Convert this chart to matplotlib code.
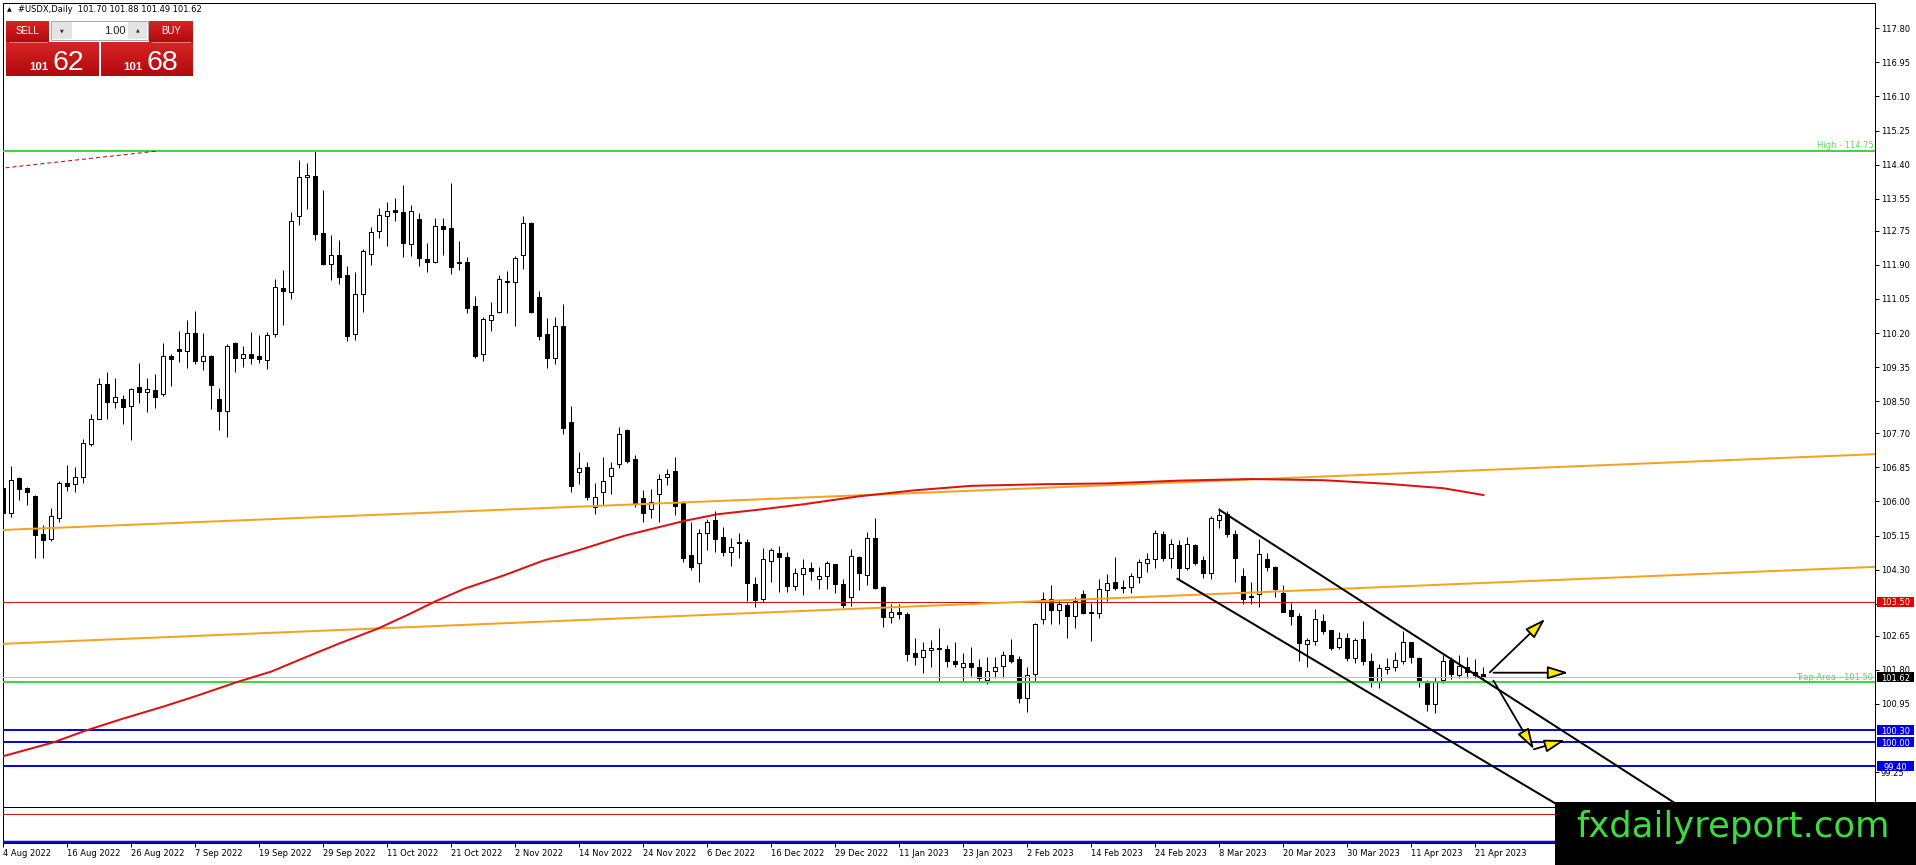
import matplotlib
matplotlib.use('Agg')
import matplotlib.pyplot as plt
import numpy as np
from matplotlib.patches import Rectangle
from matplotlib.transforms import blended_transform_factory

# ---------------- data ----------------
opens = [106.33,105.70,106.59,106.34,106.14,105.19,105.06,105.60,106.46,106.43,
         106.60,107.43,108.06,108.93,108.47,108.55,108.39,108.85,108.72,108.78,
         108.68,109.63,109.80,109.76,110.19,109.51,109.63,108.56,108.26,109.94,
         109.59,109.68,109.63,109.54,110.17,111.32,111.23,113.13,114.08,114.12,
         112.69,111.91,112.15,111.65,110.17,111.17,112.18,112.74,113.11,113.27,
         113.21,112.41,113.04,112.05,111.96,112.87,112.81,111.96,111.96,110.87,
         109.67,110.52,110.73,111.51,111.47,112.15,112.94,111.09,110.17,109.57,
         110.38,107.99,106.74,106.87,105.85,106.23,106.63,106.93,107.78,107.07,
         106.08,105.80,106.18,106.60,106.76,105.95,104.66,104.46,105.21,105.54,
         105.11,104.75,104.98,105.00,103.93,103.56,104.52,104.71,104.61,103.90,
         104.18,104.33,104.06,104.13,104.43,103.93,103.61,104.61,104.17,105.08,
         103.86,103.13,103.24,103.19,102.21,102.13,102.29,102.34,102.31,102.02,
         101.88,101.96,101.86,101.56,101.76,101.90,102.16,102.06,101.09,101.70,
         103.06,103.58,103.29,103.42,103.14,103.68,103.24,103.21,103.79,104.00,
         103.86,103.86,104.11,104.47,104.56,105.19,104.58,104.91,104.33,104.91,
         104.54,104.22,105.55,105.69,105.20,104.13,103.64,103.69,104.56,104.36,
         103.71,103.29,103.15,102.44,102.53,103.02,102.80,102.38,102.59,102.10,
         102.56,102.02,101.51,101.81,101.86,102.01,102.49,102.09,101.47,100.94,
         101.54,102.05,101.67,101.86,101.74,101.70]
highs = [106.47,106.88,106.62,106.36,106.16,105.41,105.83,106.50,106.91,106.87,
         107.55,108.18,109.07,109.24,109.07,108.65,108.82,109.46,109.07,109.18,
         109.96,109.68,110.25,110.53,110.75,110.19,109.65,108.82,109.92,109.98,
         109.88,110.22,110.15,110.23,111.54,111.77,113.23,114.52,114.43,114.76,
         113.77,112.65,112.52,111.87,111.71,112.30,112.84,113.31,113.46,113.56,
         113.89,113.39,113.19,112.45,113.06,113.06,113.93,112.50,112.09,111.12,
         110.61,110.98,111.65,111.75,112.12,113.12,112.98,111.25,110.58,110.59,
         110.93,108.38,107.23,106.99,106.45,107.10,106.98,107.85,107.80,107.16,
         106.28,106.30,106.69,106.80,107.12,106.00,105.50,105.31,105.56,105.75,
         105.36,105.08,105.22,105.06,104.11,104.83,104.83,104.89,104.75,104.33,
         104.56,104.48,104.36,104.52,104.43,104.07,104.81,104.64,105.25,105.58,
         103.89,103.44,103.44,103.24,102.59,102.50,102.55,102.84,102.42,102.49,
         102.23,102.36,102.06,102.13,102.13,102.26,102.56,102.14,101.86,102.98,
         103.73,103.92,103.54,103.48,103.63,103.78,103.48,104.07,104.18,104.61,
         104.03,104.21,104.56,104.72,105.29,105.26,105.06,105.04,105.12,104.93,
         104.64,105.64,105.83,105.75,105.29,104.33,104.00,105.06,104.71,104.39,
         103.92,103.48,103.21,102.59,103.31,103.19,102.80,102.75,102.73,102.59,
         103.02,102.21,101.95,102.09,102.25,102.77,102.50,102.13,101.55,101.63,
         102.17,102.11,102.17,102.11,102.07,101.88]
lows = [105.62,105.62,106.04,105.91,104.58,104.58,105.02,105.50,106.27,106.24,
        106.45,107.39,108.05,108.05,108.32,107.93,107.53,108.45,108.24,108.34,
        108.63,108.88,109.47,109.34,109.44,109.28,108.30,107.77,107.62,109.24,
        109.36,109.44,109.45,109.30,110.09,110.40,111.04,112.89,113.29,112.52,
        111.90,111.52,111.42,110.00,110.03,110.73,111.90,112.58,112.38,113.00,
        112.10,112.13,111.87,111.73,111.94,112.15,111.66,111.77,110.71,109.59,
        109.50,110.25,110.69,110.69,110.38,111.79,110.69,110.03,109.32,109.43,
        107.68,106.24,106.44,106.04,105.69,105.91,106.18,106.84,106.97,105.87,
        105.50,105.60,105.50,106.40,105.66,104.50,104.28,104.00,104.79,104.75,
        104.64,104.39,104.58,103.52,103.38,103.50,104.00,103.75,103.73,103.79,
        103.67,104.04,103.81,103.81,103.71,103.35,103.40,103.78,103.92,103.81,
        102.88,102.98,103.06,102.01,101.92,101.71,101.88,101.50,101.88,101.88,
        101.53,101.65,101.51,101.45,101.61,101.61,101.96,100.98,100.76,101.51,
        102.94,102.94,102.94,102.59,102.84,103.19,102.53,103.10,103.52,103.79,
        103.71,103.71,103.97,104.25,104.35,104.52,104.35,104.06,104.29,104.42,
        104.08,104.06,105.33,105.11,104.00,103.44,103.45,103.38,104.27,103.63,
        103.24,102.92,102.01,101.86,102.42,102.70,102.30,102.31,102.01,101.98,
        101.91,101.38,101.36,101.70,101.76,101.95,101.96,101.38,100.78,100.73,
        101.48,101.57,101.61,101.59,101.59,101.49]
closes = [105.70,106.53,106.32,106.24,105.16,105.04,105.64,106.46,106.39,106.60,
          107.47,108.05,108.93,108.49,108.60,108.36,108.80,108.74,108.80,108.61,
          109.63,109.56,109.76,110.19,109.50,109.63,108.90,108.26,109.88,109.59,
          109.68,109.59,109.56,110.15,111.34,111.26,112.99,114.08,114.14,112.67,
          111.92,112.14,111.61,110.13,111.17,112.25,112.71,113.14,113.25,113.23,
          112.44,113.25,112.06,111.98,112.88,112.79,111.84,111.95,110.83,109.64,
          110.54,110.65,111.54,111.48,112.06,112.94,110.73,110.13,109.59,110.38,
          107.82,106.39,106.84,106.10,106.10,106.52,106.83,107.67,107.02,105.94,
          105.70,105.99,106.55,106.69,105.89,104.58,104.37,105.21,105.48,105.06,
          104.75,104.87,104.97,103.96,103.54,104.56,104.79,104.61,103.90,104.21,
          104.33,104.27,104.14,104.46,103.93,103.42,104.64,104.21,105.08,103.85,
          103.13,103.24,103.19,102.19,102.11,102.30,102.34,102.31,102.01,101.94,
          101.96,101.86,101.59,101.77,101.86,102.16,102.03,101.09,101.67,102.94,
          103.58,103.29,103.44,103.15,103.53,103.23,103.21,103.81,103.96,103.83,
          103.83,104.15,104.48,104.56,105.21,104.60,104.93,104.33,104.93,104.47,
          104.21,105.58,105.66,105.20,104.58,103.58,103.61,104.69,104.36,103.81,
          103.25,103.15,102.48,102.55,103.06,102.78,102.35,102.59,102.10,102.55,
          102.01,101.49,101.84,101.86,102.05,102.49,102.11,101.49,100.94,101.51,
          102.03,101.69,101.90,101.74,101.67,101.62]

date_labels = ["4 Aug 2022", "16 Aug 2022", "26 Aug 2022", "7 Sep 2022", "19 Sep 2022",
               "29 Sep 2022", "11 Oct 2022", "21 Oct 2022", "2 Nov 2022", "14 Nov 2022",
               "24 Nov 2022", "6 Dec 2022", "16 Dec 2022", "29 Dec 2022", "11 Jan 2023",
               "23 Jan 2023", "2 Feb 2023", "14 Feb 2023", "24 Feb 2023", "8 Mar 2023",
               "20 Mar 2023", "30 Mar 2023", "11 Apr 2023", "21 Apr 2023"]
label_step = 8

# price-scale labels visible in the reference
ytick_vals = [117.80, 116.95, 116.10, 115.25, 114.40, 113.55, 112.75, 111.90, 111.05,
              110.20, 109.35, 108.50, 107.70, 106.85, 106.00, 105.15, 104.30, 103.45,
              102.65, 101.80, 100.95, 99.25]

# moving average (red curve) read at bar positions
ma_bars = [0, 6.2, 10.2, 14.7, 19.9, 23.8, 29.25, 33.5, 38.3, 42, 46.8, 50.5, 54.1,
           57.7, 62.6, 67.4, 72.3, 77.7, 85, 89.2, 94.6, 100, 107, 114, 121, 130, 138,
           147, 156, 165, 173, 180, 185]
ma_vals = [99.65, 99.99, 100.28, 100.57, 100.88, 101.13, 101.50, 101.76, 102.16, 102.46,
           102.83, 103.17, 103.52, 103.83, 104.16, 104.52, 104.81, 105.15, 105.51, 105.68,
           105.80, 105.93, 106.13, 106.28, 106.39, 106.43, 106.45, 106.52, 106.56, 106.53,
           106.44, 106.33, 106.16]

# trend lines (bar index, price)
orange_up_bars = [0, 234]
orange_up_vals = [105.29, 107.18]
orange_lo_bars = [0, 234]
orange_lo_vals = [102.45, 104.37]
chan_up_bars = [152, 217]
chan_up_vals = [105.79, 97.44]
chan_lo_bars = [146.75, 203]
chan_lo_vals = [104.07, 97.40]
red_dash_bars = [0.25, 19.25]
red_dash_vals = [114.32, 114.74]

high_level = 114.75
trap_level = 101.50
bid_level = 101.62
resistance_level = 103.50
support_levels = [100.30, 100.00, 99.40]
bottom_black = 98.38
bottom_red = 98.21
bottom_blue = 97.50

# scenario arrows: (start bar, start price, end bar, end price)
arrows = [(185.8, 101.74, 192.7, 103.07),
          (186.25, 101.73, 195.6, 101.73),
          (186.25, 101.53, 191.3, 99.82),
          (191.3, 99.82, 195.2, 100.05)]

# ---------------- figure ----------------
W, H = 1916, 865
fig = plt.figure(figsize=(W / 100, H / 100), dpi=100)
fig.patch.set_facecolor('white')
L_px, R_px, T_px, B_px = 2.7, 1875, 2.5, 843
ax = fig.add_axes([L_px / W, 1 - B_px / H, (R_px - L_px) / W, (B_px - T_px) / H])
ax.set_xlim(-0.1, 233.94)
ax.set_ylim(97.483, 118.443)
ax.set_facecolor('white')

px = 0.72  # one pixel in points
GREEN = '#3fd63f'
ORANGE = '#f4a321'
BLUE = '#0a0ad8'
RED = '#d01010'

o = np.array(opens); h = np.array(highs); l = np.array(lows); c = np.array(closes)
idx = np.arange(len(o))
up = c >= o
ax.vlines(idx, l, h, color='black', lw=px, zorder=3)
ax.bar(idx[up], np.maximum((c - o)[up], 0.005), bottom=o[up], width=0.5,
       facecolor='white', edgecolor='black', lw=px, zorder=4)
ax.bar(idx[~up], np.maximum((o - c)[~up], 0.005), bottom=c[~up], width=0.5,
       facecolor='black', edgecolor='black', lw=px, zorder=4)

# horizontal levels
ax.axhline(high_level, color=GREEN, lw=2 * px, zorder=5)
ax.axhline(bid_level, color='#c0c0c0', lw=px, zorder=5)
ax.axhline(trap_level, color=GREEN, lw=2 * px, zorder=5)
ax.axhline(resistance_level, color=RED, lw=px, zorder=5)
for s in support_levels:
    ax.axhline(s, color=BLUE, lw=2 * px, zorder=5)
ax.axhline(bottom_black, color='black', lw=px, zorder=5)
ax.axhline(bottom_red, color=RED, lw=px, zorder=5)
ax.axhline(bottom_blue, color=BLUE, lw=2.5 * px, zorder=5)

# trend lines
ax.plot(orange_up_bars, orange_up_vals, color=ORANGE, lw=2 * px, zorder=5)
ax.plot(orange_lo_bars, orange_lo_vals, color=ORANGE, lw=2 * px, zorder=5)
ax.plot(ma_bars, ma_vals, color='#dd1111', lw=2 * px, zorder=6,
        solid_joinstyle='round')
ax.plot(chan_up_bars, chan_up_vals, color='black', lw=2 * px, zorder=6)
ax.plot(chan_lo_bars, chan_lo_vals, color='black', lw=2 * px, zorder=6)
ax.plot(red_dash_bars, red_dash_vals, color='#c00000', lw=px, ls=(0, (4, 3)), zorder=6)

for (x0, y0, x1, y1) in arrows:
    ax.annotate('', xy=(x1, y1), xytext=(x0, y0),
                arrowprops=dict(arrowstyle='-|>,head_length=0.9,head_width=0.28',
                                mutation_scale=14, fc='#ffea00', ec='black', lw=1.3,
                                shrinkA=0, shrinkB=0), zorder=7)

# labels on lines
ax.annotate('High - %.2f' % high_level, xy=(1, high_level),
            xycoords=('axes fraction', 'data'), xytext=(-1.2, 0.3),
            textcoords='offset points', ha='right', va='bottom',
            fontsize=6, color='#55dd55', zorder=7)
ax.annotate('Trap Area - %.2f' % trap_level, xy=(1, trap_level),
            xycoords=('axes fraction', 'data'), xytext=(-1.2, 0.3),
            textcoords='offset points', ha='right', va='bottom',
            fontsize=6, color='#55dd55', zorder=7)

# axes styling
for sp in ax.spines.values():
    sp.set_color('black')
    sp.set_linewidth(px)
ax.yaxis.tick_right()
ax.set_yticks(ytick_vals)
ax.set_yticklabels(['%.2f' % v for v in ytick_vals])
ax.tick_params(axis='y', direction='out', length=2.9, width=px, pad=1.2,
               labelsize=6, colors='black')
xt = np.arange(len(date_labels)) * label_step
ax.set_xticks(xt)
ax.set_xticklabels(date_labels)
ax.tick_params(axis='x', direction='out', length=2.9, width=px, pad=1.5,
               labelsize=6, colors='black')
for lab in ax.get_xticklabels():
    lab.set_ha('left')

# price boxes on the price scale
trans = blended_transform_factory(ax.transAxes, ax.transData)
bx0 = (1877 - L_px) / (R_px - L_px)
bw = 37 / (R_px - L_px)
bh = 10 / 40.1
box_items = [(resistance_level, '#e60000'), (bid_level, 'black')] + \
            [(s, '#0000e6') for s in support_levels]
for val, col in box_items:
    ax.add_patch(Rectangle((bx0, val - bh / 2), bw, bh, transform=trans,
                           facecolor=col, edgecolor='none', clip_on=False, zorder=8))
    ax.text(bx0 + bw / 2, val, '%.2f' % val, transform=trans, ha='center',
            va='center_baseline', fontsize=6, color='white', zorder=9, clip_on=False)

# ---------------- overlay (trade panel, header, watermark) ----------------
ov = fig.add_axes([0, 0, 1, 1], zorder=20)
ov.set_xlim(0, W)
ov.set_ylim(H, 0)
ov.axis('off')
ov.patch.set_alpha(0)

def red_grad(x0, y0, x1, y1):
    g = np.linspace(0, 1, 32)[:, None]
    top = np.array([214, 36, 36]) / 255.0
    bot = np.array([178, 10, 14]) / 255.0
    img = top[None, None, :] * (1 - g[..., None]) + bot[None, None, :] * g[..., None]
    img = np.repeat(img, 2, axis=1)
    ov.imshow(img, extent=[x0, x1, y1, y0], aspect='auto', interpolation='bilinear', zorder=1)

ov.text(7, 10, '\u25B2', fontsize=4.5, ha='left', va='center', color='black')
ov.text(18, 10, '#USDX,Daily  101.70 101.88 101.49 101.62', fontsize=6,
        ha='left', va='center', color='black')

red_grad(6, 21, 49, 42)
red_grad(149, 21, 193, 42)
red_grad(6, 42, 99, 76)
red_grad(101, 42, 193, 76)
ov.plot([10, 47], [41.5, 41.5], color='#f08080', lw=0.7, zorder=2)
ov.plot([152, 190], [41.5, 41.5], color='#f08080', lw=0.7, zorder=2)
ov.text(27.5, 31.5, 'SELL', fontsize=7, family='Liberation Sans', color='white',
        ha='center', va='center', zorder=3)
ov.text(171, 31.5, 'BUY', fontsize=7, family='Liberation Sans', color='white',
        ha='center', va='center', zorder=3)
# spinner
ov.add_patch(Rectangle((51, 21), 97, 19, facecolor='white', edgecolor='#a8a8a8', lw=0.7, zorder=2))
ov.add_patch(Rectangle((52, 22), 20, 17, facecolor='#e4e4e4', edgecolor='none', zorder=3))
ov.add_patch(Rectangle((128, 22), 19, 17, facecolor='#e4e4e4', edgecolor='none', zorder=3))
ov.text(62, 30.5, '\u25BC', fontsize=3.5, ha='center', va='center', color='#303030', zorder=4)
ov.text(137.5, 30, '\u25B2', fontsize=3.5, ha='center', va='center', color='#303030', zorder=4)
ov.text(126, 30.5, '1.00', fontsize=8, family='Liberation Sans', ha='right', va='center',
        color='#202020', zorder=4)
# big prices
ov.text(29, 70, '101', fontsize=8.2, family='Liberation Sans', weight='bold',
        color='white', ha='left', va='baseline', zorder=3)
ov.text(53, 70, '62', fontsize=20.5, family='Liberation Sans', color='white',
        ha='left', va='baseline', zorder=3)
ov.text(123, 70, '101', fontsize=8.2, family='Liberation Sans', weight='bold',
        color='white', ha='left', va='baseline', zorder=3)
ov.text(147, 70, '68', fontsize=20.5, family='Liberation Sans', color='white',
        ha='left', va='baseline', zorder=3)

# watermark
ov.add_patch(Rectangle((1555, 802), W - 1555, H - 802, facecolor='black',
                       edgecolor='none', zorder=5))
ov.text(1733, 837, 'fxdailyreport.com', fontsize=25.5, color='#3cdc3c',
        ha='center', va='baseline', zorder=6)

fig.savefig('out.png', dpi=100, facecolor='white')
